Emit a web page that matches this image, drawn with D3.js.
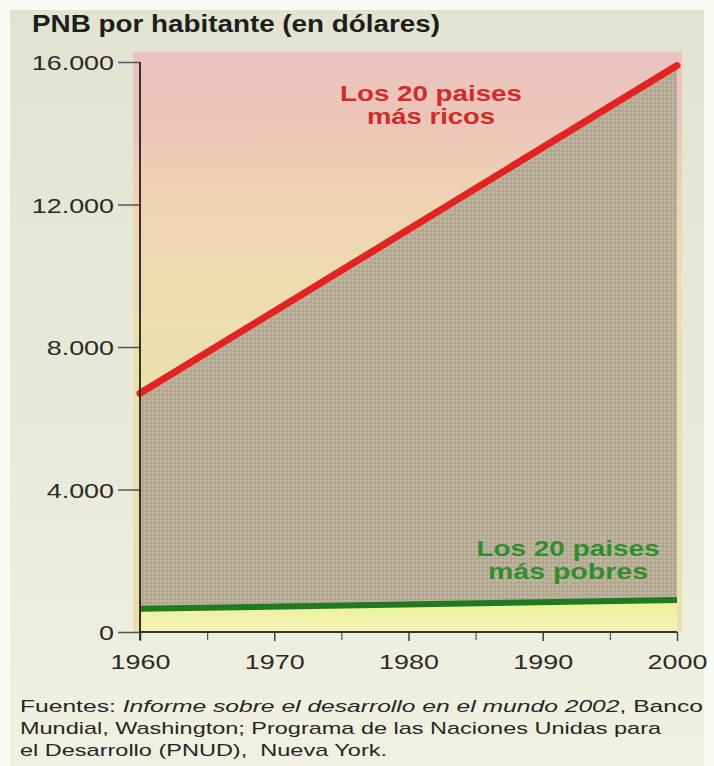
<!DOCTYPE html>
<html>
<head>
<meta charset="utf-8">
<script src="https://cdn.jsdelivr.net/npm/d3@7/dist/d3.min.js"></script>
<style>
  html, body { margin: 0; padding: 0; background: #ffffff; }
  svg { display: block; }
  text { font-family: "Liberation Sans", Arial, sans-serif; }
</style>
</head>
<body>
<script>
// ---- data ----
const years = [1960, 2000];
const richValues = [6700, 15900];
const poorValues = [650, 900];
const yTickValues = [0, 4000, 8000, 12000, 16000];
const xMajorTicks = [1960, 1970, 1980, 1990, 2000];
const xMinorTicks = [1965, 1975, 1985, 1995];
const titleText = "PNB por habitante (en dólares)";
const richLabel = ["Los 20 paises", "más ricos"];
const poorLabel = ["Los 20 paises", "más pobres"];

const W = 714, H = 766;
const svg = d3.select("body").append("svg").attr("width", W).attr("height", H);

// page background
svg.append("rect").attr("x", 0).attr("y", 0).attr("width", W).attr("height", H).attr("fill", "#fbfbf6");
const bgGrad = svg.append("defs").append("linearGradient").attr("id", "bgGrad")
  .attr("x1", 0).attr("y1", 0).attr("x2", 0).attr("y2", 1);
bgGrad.append("stop").attr("offset", "0%").attr("stop-color", "#e2e4d1");
bgGrad.append("stop").attr("offset", "60%").attr("stop-color", "#e9eada");
bgGrad.append("stop").attr("offset", "100%").attr("stop-color", "#f1f1e2");
svg.append("rect").attr("x", 10).attr("y", 10).attr("width", 694).attr("height", 756).attr("fill", "url(#bgGrad)");

const defs = svg.append("defs");
// upper (pink -> peach -> pale yellow) gradient
const upGrad = defs.append("linearGradient").attr("id", "upGrad")
  .attr("gradientUnits", "userSpaceOnUse").attr("x1", 0).attr("y1", 52).attr("x2", 0).attr("y2", 400);
upGrad.append("stop").attr("offset", "0%").attr("stop-color", "#ebc3bf");
upGrad.append("stop").attr("offset", "22%").attr("stop-color", "#ecc6b8");
upGrad.append("stop").attr("offset", "40%").attr("stop-color", "#efd2b4");
upGrad.append("stop").attr("offset", "65%").attr("stop-color", "#efdcb2");
upGrad.append("stop").attr("offset", "100%").attr("stop-color", "#ebe0ad");

// stipple pattern for middle area
const pat = defs.append("pattern").attr("id", "stipple").attr("patternUnits", "userSpaceOnUse")
  .attr("width", 4).attr("height", 4);
pat.append("rect").attr("width", 4).attr("height", 4).attr("fill", "#b7ac96");
pat.append("rect").attr("x", 0).attr("y", 0).attr("width", 1.5).attr("height", 1.5).attr("fill", "#c9bfaa");
pat.append("rect").attr("x", 2).attr("y", 2).attr("width", 1.5).attr("height", 1.5).attr("fill", "#a99e88");

const yellowGrad = defs.append("linearGradient").attr("id", "yellowGrad")
  .attr("x1", 0).attr("y1", 0).attr("x2", 0).attr("y2", 1);
yellowGrad.append("stop").attr("offset", "0%").attr("stop-color", "#eef09a");
yellowGrad.append("stop").attr("offset", "100%").attr("stop-color", "#f3f3b8");

// scales
const x = d3.scaleLinear().domain([1960, 2000]).range([140, 677]);
const y = d3.scaleLinear().domain([0, 16000]).range([632, 62]);

const esLocale = d3.formatLocale({ decimal: ",", thousands: ".", grouping: [3], currency: ["", "$"] });
const fmt = esLocale.format(",d");

// upper background area
svg.append("rect")
  .attr("x", x(1960) - 7).attr("y", y(16000) - 10)
  .attr("width", x(2000) - x(1960) + 12).attr("height", y(0) - y(16000) + 10)
  .attr("fill", "url(#upGrad)");

const pts = years.map((yr, i) => ({ year: yr, rich: richValues[i], poor: poorValues[i] }));

// middle stippled area (between poor and rich)
svg.append("path").datum(pts)
  .attr("d", d3.area().x(d => x(d.year)).y0(d => y(d.poor)).y1(d => y(d.rich)))
  .attr("fill", "url(#stipple)");

// yellow area under poor line
svg.append("path").datum(pts)
  .attr("d", d3.area().x(d => x(d.year)).y0(y(0)).y1(d => y(d.poor)))
  .attr("fill", "url(#yellowGrad)");

// lines
svg.append("path").datum(pts)
  .attr("d", d3.line().x(d => x(d.year)).y(d => y(d.poor)))
  .attr("fill", "none").attr("stroke", "#1f7a22").attr("stroke-width", 6);
svg.append("path").datum(pts)
  .attr("d", d3.line().x(d => x(d.year)).y(d => y(d.rich)))
  .attr("fill", "none").attr("stroke", "#e42222").attr("stroke-width", 7).attr("stroke-linecap", "round");

// axes
const yAxis = svg.append("g").attr("transform", `translate(${x(1960)},0)`)
  .call(d3.axisLeft(y).tickValues(yTickValues).tickFormat(fmt).tickSize(22).tickPadding(4));
yAxis.select(".domain").remove();
yAxis.selectAll(".tick line").attr("stroke", "#555").attr("stroke-width", 1.5);
yAxis.selectAll(".tick text").attr("font-size", 21).attr("fill", "#2a2a2a").attr("dy", "0.36em")
  .each(function () {
    const w = this.getComputedTextLength();
    d3.select(this).attr("textLength", w * 1.28).attr("lengthAdjust", "spacingAndGlyphs");
  });

const xAxis = svg.append("g").attr("transform", `translate(0,${y(0)})`)
  .call(d3.axisBottom(x).tickValues(xMajorTicks).tickFormat(d3.format("d")).tickSize(9).tickPadding(13));
xAxis.select(".domain").remove();
xAxis.selectAll(".tick line").attr("stroke", "#444").attr("stroke-width", 1.5);
xAxis.selectAll(".tick text").attr("font-size", 21).attr("fill", "#2a2a2a")
  .each(function () {
    const w = this.getComputedTextLength();
    d3.select(this).attr("textLength", w * 1.28).attr("lengthAdjust", "spacingAndGlyphs");
  });
const xMinor = svg.append("g").attr("transform", `translate(0,${y(0)})`)
  .call(d3.axisBottom(x).tickValues(xMinorTicks).tickFormat("").tickSize(8));
xMinor.select(".domain").remove();
xMinor.selectAll(".tick line").attr("stroke", "#555").attr("stroke-width", 1.2);

// axis lines
svg.append("line").attr("x1", x(1960)).attr("x2", x(1960)).attr("y1", y(16000)).attr("y2", y(0) + 8)
  .attr("stroke", "#3a3026").attr("stroke-width", 2);
svg.append("line").attr("x1", x(1960)).attr("x2", x(2000)).attr("y1", y(0)).attr("y2", y(0))
  .attr("stroke", "#3a3026").attr("stroke-width", 2);

// title
svg.append("text").attr("x", 32).attr("y", 32).attr("font-size", 24).attr("font-weight", "bold")
  .attr("fill", "#1e1e1e").attr("textLength", 408).attr("lengthAdjust", "spacingAndGlyphs").text(titleText);

// series labels
function label(lines, cx, y0, color, widths) {
  lines.forEach((t, i) => {
    svg.append("text").attr("x", cx).attr("y", y0 + i * 23).attr("text-anchor", "middle")
      .attr("font-size", 22).attr("font-weight", "bold").attr("fill", color)
      .attr("textLength", widths[i]).attr("lengthAdjust", "spacingAndGlyphs").text(t);
  });
}
label(richLabel, 431, 101, "#d42a2a", [182, 128]);
label(poorLabel, 568, 556, "#2f8f2f", [183, 160]);

// footer
const foot = [
  [["Fuentes: ", false], ["Informe sobre el desarrollo en el mundo 2002", true], [", Banco", false]],
  [["Mundial, Washington; Programa de las Naciones Unidas para", false]],
  [["el Desarrollo (PNUD),\u00a0 Nueva York.", false]]
];
const footWidths = [683, 641, 367];
foot.forEach((parts, i) => {
  const t = svg.append("text").attr("x", 20).attr("y", 712 + i * 22).attr("font-size", 17)
    .attr("fill", "#262626").attr("textLength", footWidths[i]).attr("lengthAdjust", "spacingAndGlyphs");
  parts.forEach(p => t.append("tspan").attr("font-style", p[1] ? "italic" : "normal").text(p[0]));
});
</script>
</body>
</html>
